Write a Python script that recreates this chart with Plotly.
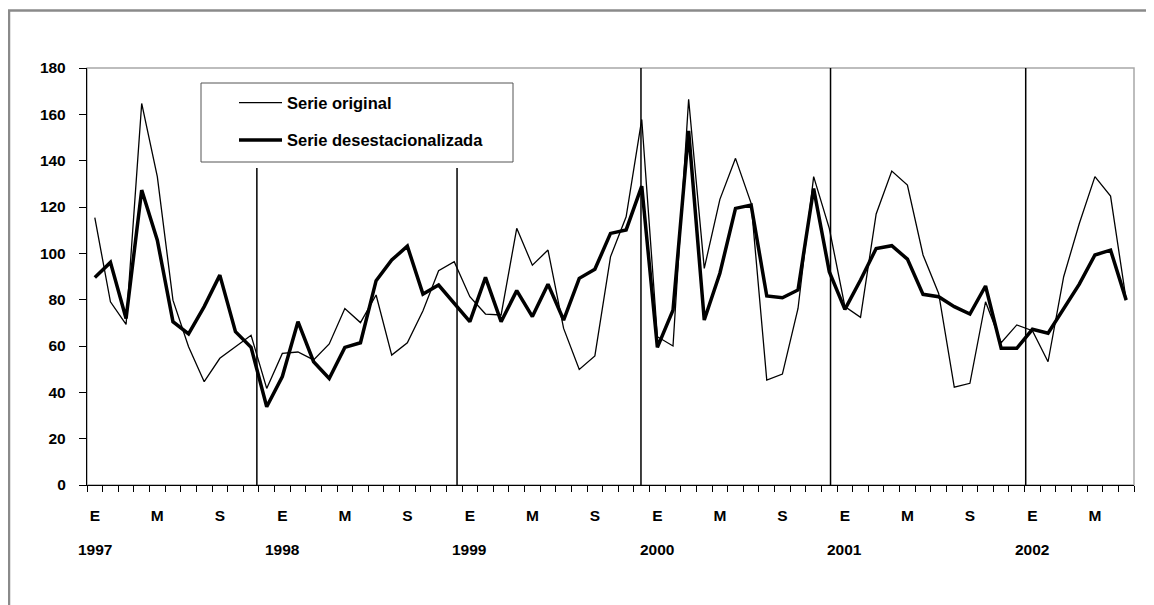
import plotly.graph_objects as go

# ---- data (Jan 1997 .. Jul 2002, monthly) ----
month_letters = ["E", "F", "M", "A", "M", "J", "J", "A", "S", "O", "N", "D"]
years = ["1997", "1998", "1999", "2000", "2001", "2002"]
series_names = ["Serie original", "Serie desestacionalizada"]

serie_original = [115.4, 79.1, 69.3, 164.7, 133.1, 79.8, 59.7, 44.6, 54.7, 59.7, 64.6, 41.7,
                  56.8, 57.4, 54.0, 60.9, 76.2, 70.1, 82.0, 56.1, 61.4, 75.2, 92.5, 96.4,
                  81.3, 73.8, 73.4, 110.8, 94.9, 101.4, 67.6, 49.9, 55.7, 98.5, 115.8, 157.8,
                  64.0, 60.0, 166.5, 93.5, 123.3, 141.0, 121.6, 45.3, 47.9, 76.2, 133.1, 110.8,
                  77.0, 72.4, 117.0, 135.5, 129.5, 99.3, 82.7, 42.2, 43.9, 79.1, 61.4, 69.1,
                  66.6, 53.2, 89.9, 112.9, 133.1, 124.7, 79.8]

serie_desest = [89.6, 96.1, 71.9, 127.3, 105.7, 70.5, 65.2, 77.0, 90.6, 66.2, 59.4, 33.8,
                46.8, 70.5, 53.2, 46.0, 59.4, 61.4, 88.2, 97.1, 103.1, 82.4, 86.3, 78.4,
                70.5, 89.6, 70.5, 83.9, 72.7, 86.7, 71.2, 89.2, 93.1, 108.6, 110.1, 129.0,
                59.4, 75.5, 152.9, 71.2, 91.4, 119.4, 120.8, 81.6, 80.8, 84.2, 128.0, 92.1,
                75.8, 88.5, 102.1, 103.3, 97.5, 82.3, 81.3, 77.0, 73.8, 85.9, 59.0, 59.0,
                67.2, 65.5, 75.8, 86.7, 99.3, 101.4, 79.8]

n = len(serie_original)
idx = list(range(n))
tick_idx = [i for i in idx if i % 4 == 0]
tick_txt = [month_letters[i % 12] for i in tick_idx]
jan_idx = [i for i in idx if i % 12 == 0]

FONT = "Liberation Sans, Arial, sans-serif"

# geometry: page pixel targets (figure is offset by the page body margin)
OFF = 8
W, H = 1154, 605
PL, PR, PT, PB = 87, 1134, 68, 485          # plot area on the page
L, T = PL - OFF, PT - OFF
R, B = W - (PR - OFF), H - (PB - OFF)
pw, ph = W - L - R, H - T - B


def px(x):
    return (x - PL) / pw


def py(y):
    return (PB - y) / ph


fig = go.Figure()
fig.add_trace(go.Scatter(x=idx, y=serie_original, mode="lines", name=series_names[0],
                         line=dict(color="black", width=1.3), showlegend=False))
fig.add_trace(go.Scatter(x=idx, y=serie_desest, mode="lines", name=series_names[1],
                         line=dict(color="black", width=3.5), showlegend=False))

shapes = []
# outer chart frame
shapes.append(dict(type="rect", xref="paper", yref="paper", x0=px(9), x1=px(1200),
                   y0=py(660), y1=py(10.5), line=dict(color="#8a8a8a", width=2.5), layer="below"))
# plot area frame (gray top/right)
shapes.append(dict(type="rect", xref="paper", yref="paper", x0=0, x1=1, y0=0, y1=1,
                   line=dict(color="#a8a8a8", width=1.5), layer="below"))
# year separator lines (hand placed in the original)
sep_x = [10.37, 23.18, 34.95, 47.08, 59.57]
sep_top = [136.8, 136.8, 180, 180, 180]
for xs, yt in zip(sep_x, sep_top):
    shapes.append(dict(type="line", xref="x", yref="y", x0=xs, x1=xs, y0=-2.5, y1=yt,
                       line=dict(color="black", width=1.5)))

# custom legend box
shapes.append(dict(type="rect", xref="paper", yref="paper", x0=px(201), x1=px(513),
                   y0=py(162), y1=py(83), line=dict(color="#555555", width=1),
                   fillcolor="white", layer="above"))
leg_y = [102.7, 140]
leg_w = [1.3, 3.5]
annotations = []
for name, yy, lw in zip(series_names, leg_y, leg_w):
    shapes.append(dict(type="line", xref="paper", yref="paper", x0=px(239), x1=px(282),
                       y0=py(yy), y1=py(yy), line=dict(color="black", width=lw)))
    annotations.append(dict(xref="paper", yref="paper", x=px(285), y=py(yy), text=name,
                            showarrow=False, xanchor="left", yanchor="middle",
                            font=dict(family=FONT, size=16.5, color="black", weight="bold")))

for i, yr in zip(jan_idx, years):
    annotations.append(dict(xref="x", yref="paper", x=i, y=py(549), text=yr, showarrow=False,
                            xanchor="center", yanchor="middle",
                            font=dict(family=FONT, size=15.5, color="black", weight="bold")))

fig.update_layout(
    width=W, height=H,
    margin=dict(l=L, r=R, t=T, b=B, pad=0),
    paper_bgcolor="white", plot_bgcolor="white",
    shapes=shapes, annotations=annotations,
    showlegend=False,
    xaxis=dict(range=[-0.5, n - 0.5], tickmode="array", tickvals=tick_idx, ticktext=tick_txt,
               ticks="outside", ticklen=0, tickcolor="rgba(0,0,0,0)",
               minor=dict(tick0=-0.5, dtick=1, ticks="outside", ticklen=6, tickcolor="black",
                          tickwidth=1),
               showline=True, linecolor="black", linewidth=1.3, showgrid=False, zeroline=False,
               tickfont=dict(family=FONT, size=15.5, color="black", weight="bold"),
               ticklabelstandoff=16),
    yaxis=dict(range=[0, 180], tickmode="linear", tick0=0, dtick=20,
               ticks="outside", ticklen=7, tickcolor="black", tickwidth=1,
               showline=True, linecolor="black", linewidth=1.3, showgrid=False, zeroline=False,
               tickfont=dict(family=FONT, size=15.5, color="black", weight="bold"),
               ticklabelstandoff=10),
)

fig.write_html("out.html")
